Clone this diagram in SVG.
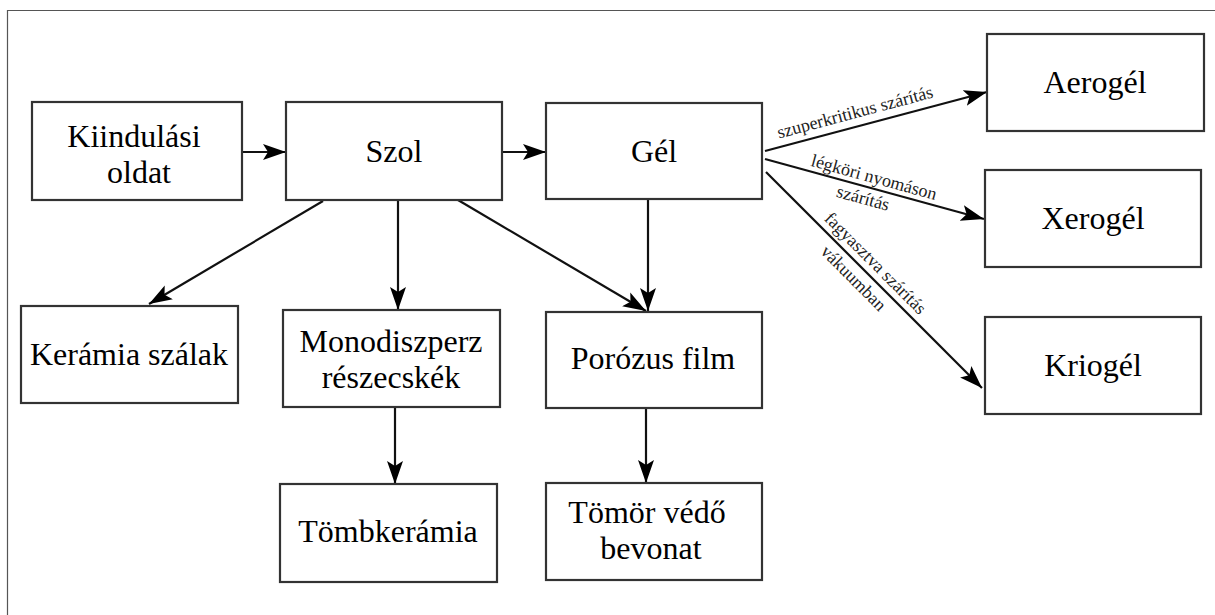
<svg xmlns="http://www.w3.org/2000/svg" width="1215" height="615" viewBox="0 0 1215 615" font-family="Liberation Serif, DejaVu Serif, serif">
<style>
.box{fill:#fff;stroke:#333;stroke-width:2.2}
.t{font-size:32px;fill:#000;text-anchor:middle}
.s{font-size:18px;fill:#222;text-anchor:middle}
.c{stroke:#111;stroke-width:2.2;fill:none;marker-end:url(#ah)}
</style>
<defs>
<marker id="ah" markerUnits="userSpaceOnUse" markerWidth="26" markerHeight="18" refX="23" refY="9" orient="auto">
<path d="M0,1 L23,9 L0,17 L5,9 Z" fill="#000"/>
</marker>
</defs>
<rect width="1215" height="615" fill="#fff"/>
<path d="M7.5,615 V10.5 H1215" fill="none" stroke="#555" stroke-width="1.2"/>
<g id="connectors">
<line class="c" x1="242" y1="152" x2="286" y2="152"/>
<line class="c" x1="502" y1="152" x2="546" y2="152"/>
<line class="c" x1="323" y1="201" x2="149" y2="304"/>
<line class="c" x1="398" y1="200" x2="398" y2="310"/>
<line class="c" x1="458" y1="200" x2="646" y2="311"/>
<line class="c" x1="648" y1="200" x2="648" y2="311"/>
<line class="c" x1="395" y1="407" x2="395" y2="484"/>
<line class="c" x1="646" y1="408" x2="646" y2="483"/>
<line class="c" x1="765" y1="151" x2="987" y2="92"/>
<line class="c" x1="765" y1="159" x2="984" y2="219"/>
<line class="c" x1="766" y1="172" x2="982" y2="388"/>
<text class="s" transform="translate(765,151) rotate(-14.9)" x="97" y="-8.5">szuperkritikus szárítás</text>
<text class="s" transform="translate(765,159) rotate(15.4)" x="110" y="-5.5">légköri nyomáson</text>
<text class="s" transform="translate(765,159) rotate(15.4)" x="105" y="17.5">szárítás</text>
<text class="s" transform="translate(766,172) rotate(45)" x="142" y="-7">fagyasztva szárítás</text>
<text class="s" transform="translate(766,172) rotate(45)" x="137" y="19">vákuumban</text>
</g>
<g id="n-kiindulasi"><rect class="box" x="32" y="102" width="210" height="98"/><text class="t" x="134" y="147">Kiindulási</text><text class="t" x="139" y="183">oldat</text></g>
<g id="n-szol"><rect class="box" x="286" y="102" width="216" height="98"/><text class="t" x="394" y="162">Szol</text></g>
<g id="n-gel"><rect class="box" x="546" y="103" width="216" height="96"/><text class="t" x="654" y="162">Gél</text></g>
<g id="n-aerogel"><rect class="box" x="987" y="34" width="217" height="97"/><text class="t" x="1095" y="93">Aerogél</text></g>
<g id="n-xerogel"><rect class="box" x="985" y="170" width="216" height="97"/><text class="t" x="1093" y="229">Xerogél</text></g>
<g id="n-kriogel"><rect class="box" x="985" y="317" width="216" height="97"/><text class="t" x="1093" y="376">Kriogél</text></g>
<g id="n-keramia"><rect class="box" x="21" y="306" width="217" height="97"/><text class="t" x="129" y="365">Kerámia szálak</text></g>
<g id="n-mono"><rect class="box" x="283" y="310" width="217" height="97"/><text class="t" x="391" y="352">Monodiszperz</text><text class="t" x="391" y="388">részecskék</text></g>
<g id="n-porozus"><rect class="box" x="546" y="312" width="216" height="96"/><text class="t" x="653" y="369">Porózus film</text></g>
<g id="n-tomb"><rect class="box" x="280" y="484" width="217" height="98"/><text class="t" x="388" y="542">Tömbkerámia</text></g>
<g id="n-tomor"><rect class="box" x="546" y="483" width="216" height="97"/><text class="t" x="647" y="523">Tömör védő</text><text class="t" x="651" y="559">bevonat</text></g>
</svg>
